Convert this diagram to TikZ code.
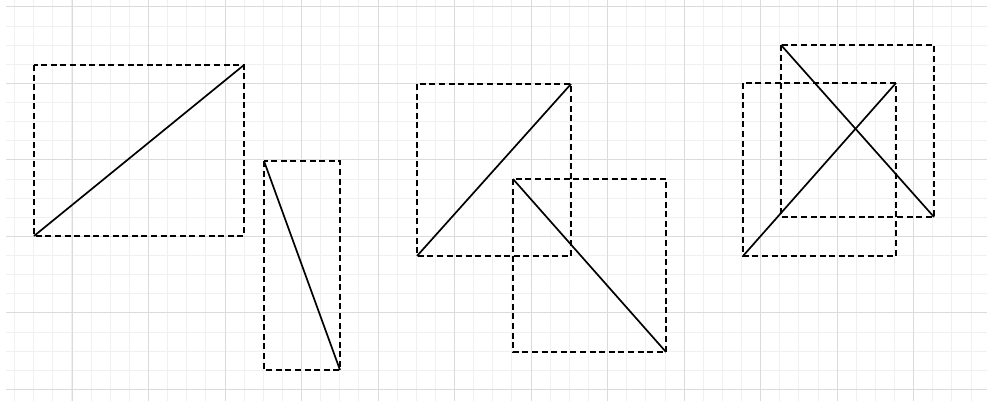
\documentclass[tikz,border=0pt]{standalone}
\usepackage{tikz}
\usetikzlibrary{calc}

\begin{document}
\begin{tikzpicture}[x=0.5pt,y=-0.5pt,
    minorline/.style={draw=black!6,line width=0.5pt},
    majorline/.style={draw=black!14,line width=0.8pt},
    frame/.style={draw=black,dash pattern=on 3pt off 1.8pt,line width=0.85pt},
    diag/.style={draw=black,line width=0.85pt}]
    \useasboundingbox (0,0) rectangle (987,401);

    % grid
    \foreach \k in {0,...,50}
      \draw[minorline] ({int(14.6+19.13*\k)+0.5},0) -- ++(0,401);
    \foreach \k in {0,...,20}
      \draw[minorline] (6,{int(6.9+19.13*\k)+0.5}) -- (987,{int(6.9+19.13*\k)+0.5});
    \foreach \j in {0,...,11}
      \draw[majorline] ({int(72+76.52*\j)+0.5},0) -- ++(0,401);
    \foreach \j in {0,...,5}
      \draw[majorline] (6,{int(6.9+76.52*\j)+0.5}) -- (987,{int(6.9+76.52*\j)+0.5});

    \begin{scope}[shift={(0,0)}]
      \coordinate(A) at (34,65);
      \coordinate(B) at (244,236);
      \coordinate(C) at (264,161);
      \coordinate(D) at (340,370);
      \draw[frame](A) rectangle (B);
      \draw[diag](A|-B)--(B|-A);
      \draw[frame](C) rectangle (D);
      \draw[diag](C)--(D);
    \end{scope}

    \begin{scope}[shift={(0,0)}]
      \coordinate(A) at (417,84);
      \coordinate(B) at (571,256);
      \coordinate(C) at (513,179);
      \coordinate(D) at (666,352);
      \draw[frame](A) rectangle (B);
      \draw[diag](A|-B)--(B|-A);
      \draw[frame](C) rectangle (D);
      \draw[diag](C)--(D);
    \end{scope}

    \begin{scope}[shift={(0,0)}]
      \coordinate(A) at (743,83);
      \coordinate(B) at (896,256);
      \coordinate(C) at (781,45);
      \coordinate(D) at (934,217);
      \draw[frame](A) rectangle (B);
      \draw[diag](A|-B)--(B|-A);
      \draw[frame](C) rectangle (D);
      \draw[diag](C)--(D);
    \end{scope}
  \end{tikzpicture}
\end{document}
